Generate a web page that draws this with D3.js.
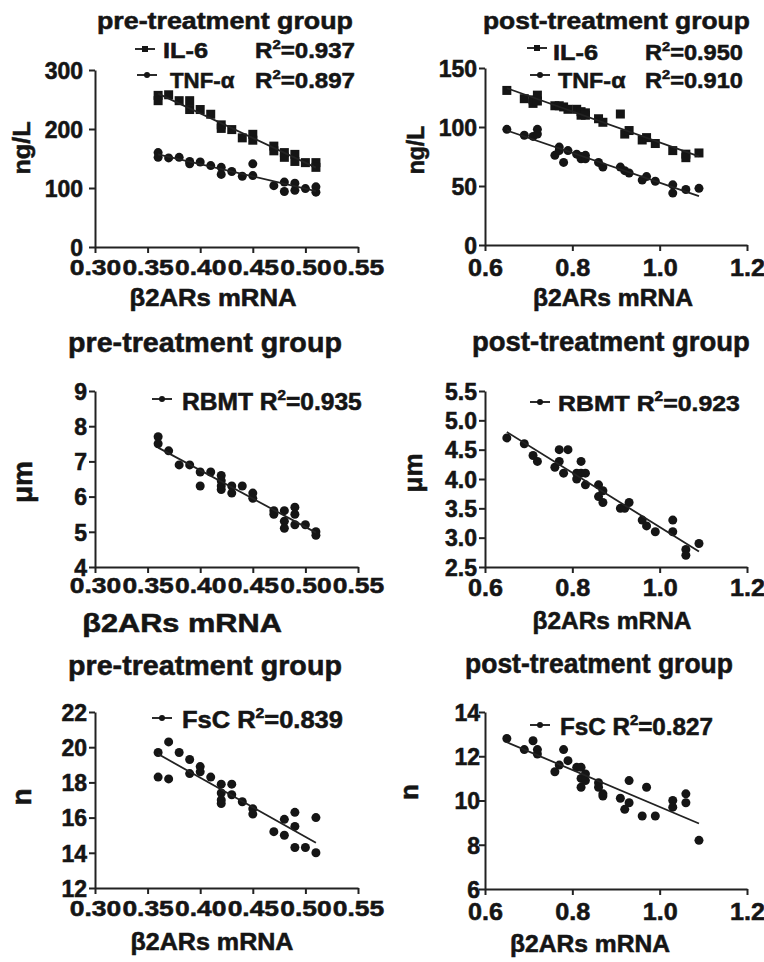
<!DOCTYPE html>
<html>
<head>
<meta charset="utf-8">
<script src="https://cdn.jsdelivr.net/npm/d3@7"></script>
<style>
  body { margin: 0; background: #fff; }
  text { font-family: "Liberation Sans", Arial, sans-serif; font-weight: bold; fill: #151515;
         stroke: #151515; stroke-width: 0.55px; }
</style>
</head>
<body>
<div id="container"></div>
<script>
// ---- data ----
const preXTicks = [0.30, 0.35, 0.40, 0.45, 0.50, 0.55];
const postXTicks = [0.6, 0.8, 1.0, 1.2];

const preCytYTicks = [0, 100, 200, 300];
const postCytYTicks = [0, 50, 100, 150];
const preRbmtYTicks = [4, 5, 6, 7, 8, 9];
const postRbmtYTicks = [2.5, 3.0, 3.5, 4.0, 4.5, 5.0, 5.5];
const preFscYTicks = [12, 14, 16, 18, 20, 22];
const postFscYTicks = [6, 8, 10, 12, 14];

const preIL6 = [[0.36,257],[0.36,248],[0.37,258],[0.38,248],[0.39,248],[0.39,233],[0.40,233],[0.41,225],
  [0.42,207],[0.42,201],[0.43,199],[0.44,185],[0.45,191],[0.45,181],[0.47,171],[0.47,163],[0.48,160],
  [0.48,152],[0.49,157],[0.49,145],[0.50,143],[0.51,143],[0.51,135]];
const preTNF = [[0.36,160],[0.36,152],[0.37,151],[0.38,152],[0.39,145],[0.39,141],[0.40,144],[0.41,138],
  [0.42,135],[0.42,123],[0.43,128],[0.44,120],[0.45,141],[0.45,121],[0.47,104],[0.48,110],[0.48,94],
  [0.49,108],[0.49,96],[0.50,99],[0.51,102],[0.51,93]];
const postIL6 = [[0.65,131],[0.69,124],[0.71,123],[0.71,120],[0.72,127],[0.72,122],[0.76,118],[0.77,118],
  [0.78,117],[0.79,115],[0.81,115],[0.82,113],[0.82,110],[0.83,112],[0.83,110],[0.86,107],[0.87,104],
  [0.91,111],[0.92,94],[0.93,97],[0.96,89],[0.97,91],[0.99,86],[1.03,80],[1.06,77],[1.06,74],[1.09,78]];
const postTNF = [[0.65,98],[0.69,93],[0.71,92],[0.72,98],[0.72,94],[0.76,76],[0.77,83],[0.77,80],[0.78,70],
  [0.79,80],[0.81,77],[0.82,75],[0.82,73],[0.83,76],[0.83,73],[0.86,70],[0.87,66],[0.91,66],[0.92,63],
  [0.93,61],[0.96,55],[0.97,58],[0.99,54],[1.03,51],[1.03,44],[1.06,47],[1.09,48]];
const preRBMT = [[0.36,7.7],[0.36,7.5],[0.37,7.3],[0.38,6.9],[0.39,6.9],[0.40,6.7],[0.40,6.3],[0.41,6.7],
  [0.42,6.6],[0.42,6.45],[0.42,6.3],[0.42,6.2],[0.43,6.3],[0.43,6.1],[0.44,6.3],[0.45,6.1],[0.45,5.95],
  [0.47,5.6],[0.47,5.5],[0.48,5.6],[0.48,5.3],[0.48,5.1],[0.49,5.7],[0.49,5.5],[0.49,5.2],[0.50,5.2],
  [0.51,5.0],[0.51,4.9]];
const postRBMT = [[0.65,4.7],[0.69,4.6],[0.71,4.4],[0.72,4.3],[0.76,4.2],[0.77,4.5],[0.77,4.3],[0.78,4.1],
  [0.79,4.5],[0.81,4.1],[0.81,4.0],[0.82,4.3],[0.82,4.1],[0.83,4.1],[0.83,3.9],[0.86,3.9],[0.86,3.7],
  [0.87,3.8],[0.87,3.6],[0.91,3.5],[0.92,3.5],[0.93,3.6],[0.96,3.3],[0.97,3.2],[0.99,3.1],[1.03,3.3],
  [1.03,3.1],[1.06,2.8],[1.06,2.7],[1.09,2.9]];
const preFsC = [[0.36,19.7],[0.36,18.3],[0.37,20.3],[0.37,18.2],[0.38,19.7],[0.39,19.3],[0.39,18.5],
  [0.40,18.9],[0.40,18.6],[0.41,18.3],[0.42,17.9],[0.42,17.4],[0.42,17.0],[0.42,16.8],[0.43,17.9],
  [0.43,17.3],[0.44,16.9],[0.45,16.5],[0.45,16.2],[0.47,15.2],[0.48,15.9],[0.48,15.0],[0.49,16.3],
  [0.49,15.5],[0.49,14.3],[0.50,14.3],[0.51,16.0],[0.51,14.0]];
const postFsC = [[0.65,12.8],[0.69,12.3],[0.71,12.7],[0.72,12.3],[0.72,12.1],[0.76,11.3],[0.77,11.6],
  [0.78,12.3],[0.79,11.8],[0.81,11.5],[0.82,11.5],[0.82,11.0],[0.82,10.6],[0.83,11.2],[0.83,10.9],
  [0.86,10.8],[0.86,10.6],[0.87,10.3],[0.87,10.2],[0.91,10.1],[0.92,9.6],[0.93,10.9],[0.93,9.9],
  [0.96,9.3],[0.97,10.6],[0.99,9.3],[1.03,10.0],[1.03,9.7],[1.06,10.3],[1.06,9.9],[1.09,8.2]];

const r2Values = { preIL6: "0.937", preTNF: "0.897", postIL6: "0.950", postTNF: "0.910",
  preRBMT: "0.935", postRBMT: "0.923", preFsC: "0.839", postFsC: "0.827" };

const xTitle = "β2ARs mRNA";
const ink = "#151515";

let svg = d3.select('#container')
  .append('svg')
    .attr('width', 764)
    .attr('height', 962)
    .style('background-color', '#fff');

// text helper: parts = [[string, isSup], ...]; width = target width (stretches glyphs)
function label(x, y, parts, size, opts) {
  opts = opts || {};
  let g = svg.append('g').attr('transform', `translate(${x},${y})` + (opts.rotate ? ` rotate(${opts.rotate})` : ''));
  let t = g.append('text').attr('font-size', size).attr('text-anchor', opts.anchor || 'start');
  if (typeof parts == 'string') parts = [[parts, false]];
  let up = false;
  parts.forEach(p => {
    let ts = t.append('tspan').text(p[0]);
    if (p[1]) { ts.attr('font-size', size * 0.62).attr('dy', -size * 0.42); up = true; }
    else if (up) { ts.attr('dy', size * 0.42); up = false; }
  });
  let sx = opts.sx || 1;
  if (opts.width) sx = opts.width / t.node().getBBox().width;
  t.attr('transform', `scale(${sx},1)`);
  return t;
}

function r2Parts(v) { return [["R", false], ["2", true], ["=" + v, false]]; }

function fitLine(pts) {
  let mx = d3.mean(pts, d => d[0]), my = d3.mean(pts, d => d[1]);
  let b = d3.sum(pts, d => (d[0] - mx) * (d[1] - my)) / d3.sum(pts, d => (d[0] - mx) * (d[0] - mx));
  let a = my - b * mx;
  let ext = d3.extent(pts, d => d[0]);
  return ext.map(v => [v, a + b * v]);
}

function drawMarks(g, pts, x, y, shape) {
  if (shape == 'square') {
    g.selectAll(null).data(pts).enter().append('rect')
      .attr('x', d => x(d[0]) - 4.5).attr('y', d => y(d[1]) - 4.5)
      .attr('width', 9).attr('height', 9).attr('fill', ink);
  } else {
    g.selectAll(null).data(pts).enter().append('circle')
      .attr('cx', d => x(d[0])).attr('cy', d => y(d[1])).attr('r', 4.5).attr('fill', ink);
  }
  g.append('path').datum(fitLine(pts))
    .attr('d', d3.line().x(d => x(d[0])).y(d => y(d[1])))
    .attr('stroke', '#222').attr('stroke-width', 1.8).attr('fill', 'none');
}

function legendSym(x0, x1, yy, shape) {
  svg.append('line').attr('x1', x0).attr('x2', x1).attr('y1', yy).attr('y2', yy)
    .attr('stroke', ink).attr('stroke-width', 1.8);
  let cx = (x0 + x1) / 2;
  if (shape == 'square') svg.append('rect').attr('x', cx - 3).attr('y', yy - 3).attr('width', 6).attr('height', 6).attr('fill', ink);
  else svg.append('circle').attr('cx', cx).attr('cy', yy).attr('r', 3).attr('fill', ink);
}

function panel(c) {
  let x = d3.scaleLinear().domain(c.xDom).range([c.x0, c.x1]);
  let y = d3.scaleLinear().domain(c.yDom).range([c.yBot, c.yTop]);

  let xa = svg.append('g').attr('transform', `translate(0,${c.yBot})`)
    .call(d3.axisBottom(x).tickValues(c.xTicks).tickFormat(d3.format(c.xFmt)).tickSize(6).tickSizeOuter(0));
  xa.selectAll('text').attr('y', c.xtDy).attr('dy', null)
    .attr('font-size', c.xtSize).attr('transform', `scale(${c.xtSx},1)`);

  let ya = svg.append('g').attr('transform', `translate(${c.x0},0)`)
    .call(d3.axisLeft(y).tickValues(c.yTicks).tickFormat(d3.format(c.yFmt)).tickSize(6).tickSizeOuter(0));
  ya.selectAll('text').attr('x', -c.ytOff).attr('dy', '0.36em').attr('font-size', 23);

  [xa, ya].forEach(a => {
    a.attr('font-family', null).attr('font-size', null);
    a.select('.domain').attr('stroke', '#222').attr('stroke-width', 2);
    a.selectAll('.tick line').attr('stroke', '#222').attr('stroke-width', 2);
    a.selectAll('text').attr('fill', ink);
  });

  let marks = svg.append('g');
  c.series.forEach(s => drawMarks(marks, s.pts, x, y, s.shape));

  label(c.title.x, c.title.y, c.title.text, c.title.size, { width: c.title.w });
  label(c.ylab.x, c.ylab.y, c.ylab.text, c.ylab.size, { anchor: 'middle', rotate: -90, sx: c.ylab.sx || 1 });
  label(c.xlab.x, c.xlab.y, xTitle, c.xlab.size, { anchor: 'middle', width: c.xlab.w });

  c.legend.forEach(l => {
    legendSym(l.s0, l.s1, l.sy, l.shape);
    if (l.rx) {
      label(l.tx, l.base, l.name, l.size, { width: l.nw });
      label(l.rx, l.base, r2Parts(l.r2), l.size, { width: l.rw });
    } else {
      label(l.tx, l.base, [[l.name + " R", false], ["2", true], ["=" + l.r2, false]], l.size, { width: l.rw });
    }
  });
}

const preTitle = "pre-treatment group";
const postTitle = "post-treatment group";

panel({ x0: 95, x1: 358, yTop: 70, yBot: 247, xDom: [0.30, 0.55], yDom: [0, 300],
  xTicks: preXTicks, yTicks: preCytYTicks, xFmt: '.2f', yFmt: 'd',
  xtDy: 28, xtSize: 22, xtSx: 1.2, ytOff: 12,
  series: [{ pts: preIL6, shape: 'square' }, { pts: preTNF, shape: 'circle' }],
  title: { text: preTitle, x: 97, y: 29, size: 23, w: 256 },
  ylab: { text: 'ng/L', x: 30, y: 148, size: 24, sx: 1.05 },
  xlab: { x: 213, y: 306, size: 23, w: 167 },
  legend: [
    { shape: 'square', s0: 135, s1: 155, sy: 49, tx: 163, rx: 255, base: 58, size: 22, name: 'IL-6', nw: 45, r2: r2Values.preIL6, rw: 100 },
    { shape: 'circle', s0: 137, s1: 157, sy: 75, tx: 170, rx: 255, base: 88, size: 22, name: 'TNF-α', nw: 65, r2: r2Values.preTNF, rw: 100 }
  ] });

panel({ x0: 485, x1: 747, yTop: 68, yBot: 245, xDom: [0.6, 1.2], yDom: [0, 150],
  xTicks: postXTicks, yTicks: postCytYTicks, xFmt: '.1f', yFmt: 'd',
  xtDy: 31, xtSize: 24, xtSx: 1.05, ytOff: 8,
  series: [{ pts: postIL6, shape: 'square' }, { pts: postTNF, shape: 'circle' }],
  title: { text: postTitle, x: 483, y: 29, size: 23, w: 267 },
  ylab: { text: 'ng/L', x: 424, y: 150, size: 23, sx: 1.0 },
  xlab: { x: 613, y: 306, size: 23, w: 160 },
  legend: [
    { shape: 'square', s0: 527, s1: 547, sy: 48, tx: 553, rx: 645, base: 60, size: 22, name: 'IL-6', nw: 45, r2: r2Values.postIL6, rw: 98 },
    { shape: 'circle', s0: 530, s1: 550, sy: 75, tx: 558, rx: 645, base: 88, size: 22, name: 'TNF-α', nw: 68, r2: r2Values.postTNF, rw: 98 }
  ] });

panel({ x0: 95, x1: 358, yTop: 391, yBot: 567, xDom: [0.30, 0.55], yDom: [4, 9],
  xTicks: preXTicks, yTicks: preRbmtYTicks, xFmt: '.2f', yFmt: 'd',
  xtDy: 26, xtSize: 22, xtSx: 1.2, ytOff: 8,
  series: [{ pts: preRBMT, shape: 'circle' }],
  title: { text: preTitle, x: 68, y: 352, size: 28, w: 274 },
  ylab: { text: 'μm', x: 32, y: 482, size: 28 },
  xlab: { x: 182, y: 632, size: 26, w: 200 },
  legend: [
    { shape: 'circle', s0: 152, s1: 172, sy: 399, tx: 182, base: 410, size: 23, name: 'RBMT', r2: r2Values.preRBMT, rw: 180 }
  ] });

panel({ x0: 485, x1: 747, yTop: 391, yBot: 567, xDom: [0.6, 1.2], yDom: [2.5, 5.5],
  xTicks: postXTicks, yTicks: postRbmtYTicks, xFmt: '.1f', yFmt: '.1f',
  xtDy: 29, xtSize: 24, xtSx: 1.05, ytOff: 8,
  series: [{ pts: postRBMT, shape: 'circle' }],
  title: { text: postTitle, x: 472, y: 351, size: 27, w: 278 },
  ylab: { text: 'μm', x: 422, y: 473, size: 26 },
  xlab: { x: 612, y: 629, size: 24, w: 159 },
  legend: [
    { shape: 'circle', s0: 530, s1: 550, sy: 402, tx: 558, base: 411, size: 23, name: 'RBMT', r2: r2Values.postRBMT, rw: 182 }
  ] });

panel({ x0: 95, x1: 358, yTop: 712, yBot: 888, xDom: [0.30, 0.55], yDom: [12, 22],
  xTicks: preXTicks, yTicks: preFscYTicks, xFmt: '.2f', yFmt: 'd',
  xtDy: 28, xtSize: 22, xtSx: 1.2, ytOff: 8,
  series: [{ pts: preFsC, shape: 'circle' }],
  title: { text: preTitle, x: 68, y: 675, size: 28, w: 274 },
  ylab: { text: 'n', x: 31, y: 797, size: 28 },
  xlab: { x: 212, y: 950, size: 24, w: 163 },
  legend: [
    { shape: 'circle', s0: 152, s1: 172, sy: 718, tx: 182, base: 728, size: 23, name: 'FsC ', r2: r2Values.preFsC, rw: 161 }
  ] });

panel({ x0: 485, x1: 747, yTop: 712, yBot: 889, xDom: [0.6, 1.2], yDom: [6, 14],
  xTicks: postXTicks, yTicks: postFscYTicks, xFmt: '.1f', yFmt: 'd',
  xtDy: 31, xtSize: 24, xtSx: 1.05, ytOff: 5,
  series: [{ pts: postFsC, shape: 'circle' }],
  title: { text: postTitle, x: 465, y: 673, size: 27, w: 268 },
  ylab: { text: 'n', x: 418, y: 792, size: 26 },
  xlab: { x: 590, y: 952, size: 24, w: 160 },
  legend: [
    { shape: 'circle', s0: 530, s1: 550, sy: 725, tx: 560, base: 735, size: 23, name: 'FsC', r2: r2Values.postFsC, rw: 153 }
  ] });
</script>
</body>
</html>
